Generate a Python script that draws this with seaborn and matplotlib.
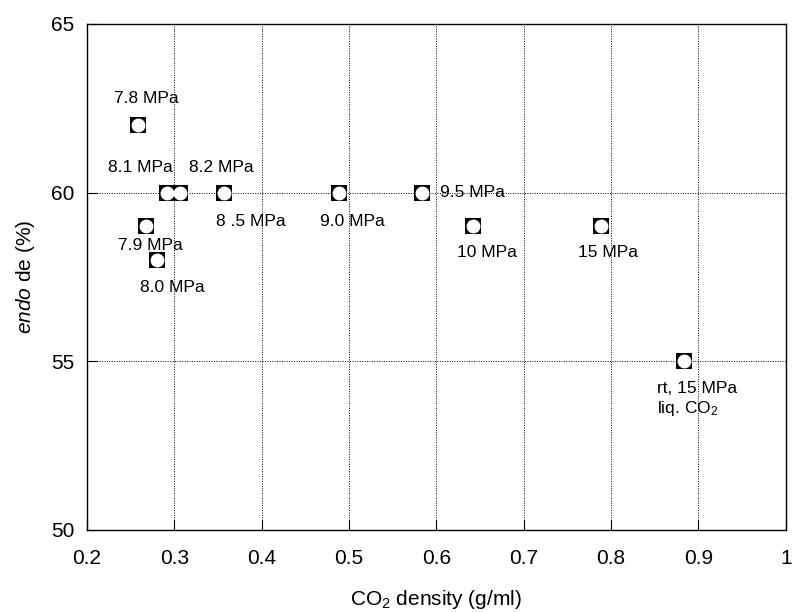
import matplotlib
matplotlib.use("Agg")
import matplotlib.pyplot as plt
import seaborn as sns

# CO2 density (g/ml) vs endo selectivity (%)
pressures = ["7.8 MPa", "7.9 MPa", "8.0 MPa", "8.1 MPa", "8.2 MPa", "8 .5 MPa",
             "9.0 MPa", "9.5 MPa", "10 MPa", "15 MPa", "rt, 15 MPa\nliq. CO$_2$"]
density = [0.258, 0.268, 0.280, 0.291, 0.306, 0.357, 0.489, 0.584, 0.642, 0.788, 0.883]
endo = [62, 59, 58, 60, 60, 60, 60, 60, 59, 59, 55]

# label offsets in points (dx, dy) and alignment
offsets = [(6, 19, "center", "center"), (3, -14, "center", "center"),
           (11, -20, "center", "center"), (-19, 18, "center", "center"),
           (30, 18, "center", "center"), (19, -21, "center", "center"),
           (9, -21, "center", "center"), (13, 0, "left", "center"),
           (10, -19, "center", "center"), (5, -19, "center", "center"),
           (-19, -14, "left", "top")]

sns.set_style("white")
plt.rcParams["font.family"] = ["Liberation Sans", "DejaVu Sans"]
plt.rcParams["text.color"] = "black"
plt.rcParams["axes.labelcolor"] = "black"
plt.rcParams["xtick.color"] = "black"
plt.rcParams["ytick.color"] = "black"
plt.rcParams["mathtext.fontset"] = "custom"
plt.rcParams["mathtext.rm"] = "Liberation Sans"
plt.rcParams["mathtext.it"] = "Liberation Sans:italic"

fig = plt.figure(figsize=(7.94, 6.12), dpi=100)
ax = fig.add_axes([0.1096, 0.134, 0.880, 0.827])

sns.scatterplot(x=density, y=endo, marker="s", s=130, color="black",
                edgecolor="black", linewidth=0, ax=ax, zorder=3)
sns.scatterplot(x=density, y=endo, marker="o", s=100, color="white",
                edgecolor="white", linewidth=0, ax=ax, zorder=4)

for x, y, lab, (dx, dy, ha, va) in zip(density, endo, pressures, offsets):
    ax.annotate(lab, (x, y), xytext=(dx, dy), textcoords="offset points",
                ha=ha, va=va, fontsize=12.5, linespacing=1.25, color="black")

ax.set_xlim(0.2, 1.0)
ax.set_ylim(50, 65)
ax.set_xticks([0.2, 0.3, 0.4, 0.5, 0.6, 0.7, 0.8, 0.9, 1.0])
ax.set_xticklabels(["0.2", "0.3", "0.4", "0.5", "0.6", "0.7", "0.8", "0.9", "1"])
ax.set_yticks([50, 55, 60, 65])
ax.grid(True, color="black", linestyle=(0, (1, 1.5)), linewidth=0.7)
ax.tick_params(direction="in", length=7, width=0.8, labelsize=15,
               bottom=True, left=True)
ax.tick_params(axis="x", pad=14)
ax.tick_params(axis="y", pad=9)
for sp in ax.spines.values():
    sp.set_color("black")
    sp.set_linewidth(1.0)

ax.set_xlabel("CO$_2$ density (g/ml)", fontsize=15, labelpad=14)
ax.set_ylabel("$\\it{endo}$ de (%)", fontsize=15, labelpad=10)

fig.savefig("out.png", dpi=100)
